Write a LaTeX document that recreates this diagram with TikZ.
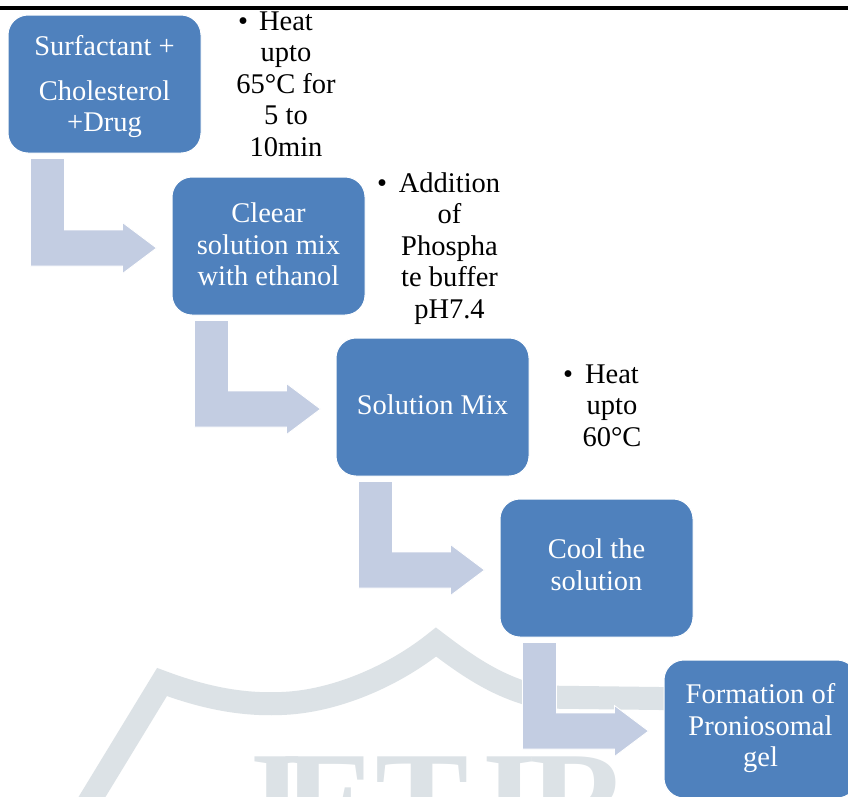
\documentclass[tikz,border=0pt]{standalone}
\usepackage{fontspec}
\setmainfont{Liberation Serif}
\usetikzlibrary{calc}
\definecolor{boxblue}{RGB}{79,129,189}
\definecolor{arrowc}{RGB}{195,205,226}
\definecolor{wmark}{RGB}{220,226,230}
\tikzset{
  procbox/.style={rectangle, rounded corners=20pt, fill=boxblue, draw=white, line width=1pt,
    minimum width=193pt, minimum height=138pt, inner sep=0pt, text=white, align=center,
    font=\fontsize{28.5}{31.5}\selectfont},
  note/.style={align=center, inner sep=0pt, anchor=north, text=black,
    font=\fontsize{28.5}{31.5}\selectfont},
  bul/.style={inner sep=0pt, anchor=base, text=black, font=\fontsize{28.5}{31.5}\selectfont},
  arrowshape/.style={fill=arrowc, draw=white, line width=0.8pt},
  wmletter/.style={inner sep=0pt, anchor=base, text=wmark, font=\fontsize{140}{140}\selectfont\bfseries}
}
\newcommand\bentarr[2]{%
  \coordinate (#1s) at ($(#1.south west)+(23,5)$);
  \coordinate (#1t) at ($(#2.west)+(-15,2)$);
  \path[arrowshape] (#1s) -- ++(34,0) -- ($(#1s|-#1t)+(34,-18)$) -- ($(#1t)+(-34,-18)$)
    -- ($(#1t)+(-34,-25.5)$) -- (#1t) -- ($(#1t)+(-34,25.5)$) -- ($(#1t)+(-34,18)$)
    -- ($(#1s|-#1t)+(0,18)$) -- cycle;}
\begin{document}
\begin{tikzpicture}[x=1pt,y=-1pt]
\useasboundingbox (0,0) rectangle (848,796);
\clip (0,0) rectangle (848,796);
\fill[white] (0,0) rectangle (848,796);
% watermark
\draw[wmark, line width=23pt, line join=miter, miter limit=10]
  (81,815) -- (162,682) .. controls (210,700) and (250,706) .. (290,703)
  .. controls (340,699) and (395,675) .. (436,642)
  .. controls (470,668) and (500,688) .. (540,697) -- (700,699);
\node[wmletter] (w1) at (267,848) {J};
\node[wmletter] (w2) at (330,848) {E};
\node[wmletter] (w3) at (422,848) {T};
\node[wmletter] (w4) at (510,848) {I};
\node[wmletter] (w5) at (580,848) {R};
% header rule
\fill[black] (0,6) rectangle (848,10);
% boxes
\node[procbox] (b1) at (104.5,84) {\rule{0pt}{28pt}Surfactant +\\[13.5pt]Cholesterol\\+Drug\strut};
\node[procbox] (b2) at (268.5,246) {\rule{0pt}{26pt}Cleear\\solution mix\\with ethanol\strut};
\node[procbox] (b3) at (432.5,407) {\rule{0pt}{24pt}Solution Mix\strut};
\node[procbox] (b4) at (596.5,568) {\strut Cool the\\solution\strut};
\node[procbox] (b5) at (760.5,729) {\strut Formation of\\Proniosomal\\gel\strut};
% arrows
\bentarr{b1}{b2}
\bentarr{b2}{b3}
\bentarr{b3}{b4}
\bentarr{b4}{b5}
% notes
\node[bul] (n1b) at (243,30) {•};
\node[note] (n1) at (286,8) {\strut Heat\\upto\\65°C for\\5 to\\10min};
\node[bul] (n2b) at (382,192) {•};
\node[note] (n2) at (449.5,170) {\strut Addition\\of\\Phospha\\te buffer\\pH7.4};
\node[bul] (n3b) at (568,383) {•};
\node[note] (n3) at (612,361) {\strut Heat\\upto\\60°C};
\end{tikzpicture}
\end{document}
